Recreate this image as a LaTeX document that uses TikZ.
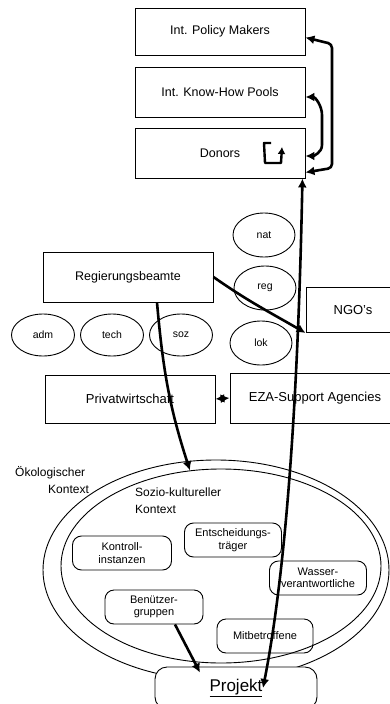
\documentclass[tikz,border=0pt]{standalone}
\usepackage{fontspec}
\setmainfont{Liberation Sans}
\usetikzlibrary{shapes.geometric,arrows.meta}
\begin{document}
\begin{tikzpicture}[x=1pt,y=-1pt,
  kasten/.style={draw,line width=0.9pt,minimum width=170pt,minimum height=48pt,font=\fontsize{12.5}{15}\selectfont},
  oval/.style={draw,ellipse,line width=0.9pt,minimum width=62pt,minimum height=44pt,font=\fontsize{10.5}{12}\selectfont},
  gruppe/.style={draw,rounded corners=9pt,line width=0.9pt,align=center,minimum height=34pt,font=\fontsize{11}{12.5}\selectfont},
  pfeil/.style={line width=2.6pt,-{Latex[length=9pt,width=9pt]}},
  dpfeil/.style={line width=2.6pt,{Latex[length=9pt,width=9pt]}-{Latex[length=9pt,width=9pt]}}]
\useasboundingbox (0,0) rectangle (390,704);
% oben
\node[kasten,minimum height=47pt] (ipm) at (220,31.5) {Int. Policy Makers};
\node[kasten,minimum height=50pt] (khp) at (220,92) {Int. Know-How Pools};
\node[kasten,minimum height=50pt] (don) at (220,153) {Donors};
\draw[line width=2.4pt,line join=round,-{Latex[length=7pt,width=8pt]}] (271,143) -- (264,143) -- (265,163) -- (281,163) -- (282,147);
% mitte
\node[kasten,minimum height=50pt] (rb) at (128,277) {Regierungsbeamte};
\node[oval] (nat) at (264,235) {nat};
\node[oval] (reg) at (265,288) {reg};
\node[oval] (lok) at (261,343) {lok};
\node[oval,minimum width=63pt,minimum height=42pt] (adm) at (43,335) {adm};
\node[oval,minimum width=63pt,minimum height=42pt] (tech) at (112,335) {tech};
\node[oval,minimum width=63pt,minimum height=42pt] (soz) at (181,335) {soz};
\node[kasten,minimum width=94pt,minimum height=45pt,font=\fontsize{13}{15}\selectfont] (ngo) at (353,310) {NGO's};
\node[kasten,font=\fontsize{13}{15}\selectfont] (pw) at (130,399) {Privatwirtschaft};
\node[kasten,minimum height=50pt,font=\fontsize{13}{15}\selectfont] (eza) at (315,398) {EZA-Support Agencies};
% unten
\node[draw,ellipse,line width=0.9pt,minimum width=346pt,minimum height=220pt] (oeko) at (216,570) {};
\node[draw,ellipse,line width=0.9pt,minimum width=320pt,minimum height=194pt] (sozio) at (221,566) {};
\node[align=left,anchor=north west,inner sep=0pt,font=\fontsize{12}{17}\selectfont] (oekotext) at (15,466) {Ökologischer\\\hspace*{33pt}Kontext};
\node[align=left,anchor=north west,inner sep=0pt,font=\fontsize{12}{17}\selectfont] (soziotext) at (135,488) {Sozio-kultureller\\Kontext};
\node[gruppe,minimum width=97pt] (ent) at (233,540) {Entscheidungs-\\träger};
\node[gruppe,minimum width=99pt] (kon) at (122,553) {Kontroll-\\instanzen};
\node[gruppe,minimum width=97pt] (was) at (318,578) {Wasser-\\verantwortliche};
\node[gruppe,minimum width=98pt] (ben) at (154,607) {Benützer-\\gruppen};
\node[gruppe,minimum width=96pt] (mit) at (265,636) {Mitbetroffene};
\node[draw,rounded corners=12pt,fill=white,line width=0.9pt,minimum width=162pt,minimum height=42pt,font=\fontsize{17}{20}\selectfont] (proj) at (236,688) {\underline{Projekt}};
% pfeile
\draw[dpfeil,rounded corners=4pt] ([yshift=-6pt]ipm.east) -- (332,44) -- (332,168) -- ([yshift=6pt]don.south east);
\draw[dpfeil] ([yshift=-5pt]khp.east) to[out=0,in=90] (322,115) -- (322,145) to[out=-90,in=0] ([yshift=-3pt]don.east);
\draw[dpfeil] ([xshift=-3pt]don.south east) .. controls (299,350) and (290,550) .. ([xshift=27pt]proj.center);
\draw[pfeil] (rb.east) to[out=-35,in=150] (ngo.south west);
\draw[pfeil] ([xshift=29pt]rb.south) to[out=-85,in=108] (sozio.108);
\draw[dpfeil] (pw.east) -- (eza.west);
\draw[pfeil] ([xshift=21pt]ben.south) -- ([xshift=-36pt,yshift=-6pt]proj.north);
\end{tikzpicture}
\end{document}
